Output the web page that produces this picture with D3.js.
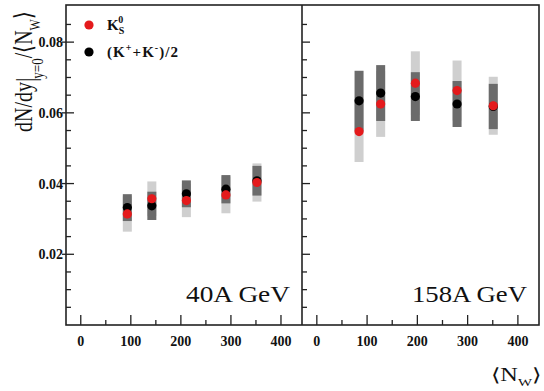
<!DOCTYPE html>
<html>
<head>
<meta charset="utf-8">
<script src="https://cdn.jsdelivr.net/npm/d3@7"></script>
<style>
  html, body { margin: 0; padding: 0; background: #fff; }
  svg { display: block; }
  text { font-family: "Liberation Serif", "Times New Roman", Times, serif; fill: #111; }
</style>
</head>
<body>
<svg id="chart" width="544" height="391"></svg>
<script>
// Kaon yield per wounded nucleon vs <N_W>, two beam energies
const npart40   = [93, 142, 211, 290, 352];
const k0s40     = [0.0314, 0.0357, 0.0352, 0.0368, 0.0403];
const k0sSys40  = [0.0050, 0.0049, 0.0047, 0.0052, 0.0054];
const kch40     = [0.0332, 0.0337, 0.0371, 0.0384, 0.0408];
const kchSys40  = [0.0038, 0.0040, 0.0038, 0.0040, 0.0042];

const npart158  = [84, 127, 196, 279, 351];
const k0s158    = [0.0547, 0.0625, 0.0684, 0.0663, 0.0620];
const k0sSys158 = [0.0086, 0.0093, 0.0090, 0.0085, 0.0082];
const kch158    = [0.0634, 0.0656, 0.0646, 0.0625, 0.0618];
const kchSys158 = [0.0085, 0.0079, 0.0069, 0.0065, 0.0064];

const k0sStat = 0.0012;

const xTicks = [0, 100, 200, 300, 400];
const yTicks = [0.02, 0.04, 0.06, 0.08];
const panelLabels = ["40A GeV", "158A GeV"];

const svg = d3.select("#chart");
const plotTop = 5, plotBottom = 325, plotLeft = 66, plotMid = 302, plotRight = 539;
const y = d3.scaleLinear().domain([0, 0.0905]).range([plotBottom, plotTop]);
const xDomain = [-29.5, 442];
const xL = d3.scaleLinear().domain(xDomain).range([plotLeft, plotMid]);
const xR = d3.scaleLinear().domain(xDomain).range([plotMid, plotRight]);

const RED = "#e41a1c", DARK = "#6b6b6b", LIGHT = "#cfcfcf";
const BOXW = 9;

function panel(x, n, k0, k0sys, kc, kcsys, label, textLen) {
  const g = svg.append("g");
  const idx = d3.range(n.length);
  // systematic bands
  g.selectAll(".lb").data(idx).join("rect")
    .attr("x", i => x(n[i]) - BOXW / 2).attr("width", BOXW)
    .attr("y", i => y(k0[i] + k0sys[i]))
    .attr("height", i => y(k0[i] - k0sys[i]) - y(k0[i] + k0sys[i]))
    .attr("fill", LIGHT);
  g.selectAll(".db").data(idx).join("rect")
    .attr("x", i => x(n[i]) - BOXW / 2).attr("width", BOXW)
    .attr("y", i => y(kc[i] + kcsys[i]))
    .attr("height", i => y(kc[i] - kcsys[i]) - y(kc[i] + kcsys[i]))
    .attr("fill", DARK);
  // charged kaon points
  g.selectAll(".bk").data(idx).join("circle")
    .attr("cx", i => x(n[i])).attr("cy", i => y(kc[i])).attr("r", 4.6)
    .attr("fill", "#000");
  // K0s stat errors and points
  g.selectAll(".se").data(idx).join("line")
    .attr("x1", i => x(n[i])).attr("x2", i => x(n[i]))
    .attr("y1", i => y(k0[i] + k0sStat)).attr("y2", i => y(k0[i] - k0sStat))
    .attr("stroke", RED).attr("stroke-width", 1.2);
  g.selectAll(".rd").data(idx).join("circle")
    .attr("cx", i => x(n[i])).attr("cy", i => y(k0[i])).attr("r", 4.6)
    .attr("fill", RED);

  // x axis: ticks pointing up
  const minor = d3.range(50, 450, 100);
  g.selectAll(".xt").data(xTicks).join("line")
    .attr("x1", d => x(d)).attr("x2", d => x(d))
    .attr("y1", plotBottom).attr("y2", plotBottom - 10)
    .attr("stroke", "#222").attr("stroke-width", 1.3);
  g.selectAll(".xm").data(minor).join("line")
    .attr("x1", d => x(d)).attr("x2", d => x(d))
    .attr("y1", plotBottom).attr("y2", plotBottom - 5)
    .attr("stroke", "#222").attr("stroke-width", 1.3);
  g.selectAll(".xl").data(xTicks).join("text")
    .attr("x", d => x(d)).attr("y", 346)
    .attr("text-anchor", "middle").attr("font-size", 14).attr("font-weight", "bold")
    .text(d => d);

  // y ticks on the panel's left edge
  const x0 = x.range()[0];
  const yMinor = d3.range(0.005, 0.09, 0.005).filter(v => Math.abs(v / 0.02 - Math.round(v / 0.02)) > 1e-6);
  g.selectAll(".ym").data(yMinor).join("line")
    .attr("x1", x0).attr("x2", x0 + 5)
    .attr("y1", d => y(d)).attr("y2", d => y(d))
    .attr("stroke", "#222").attr("stroke-width", 1.3);
  g.selectAll(".yt").data(yTicks).join("line")
    .attr("x1", x0 - (x0 === plotLeft ? 4 : 0)).attr("x2", x0 + 8)
    .attr("y1", d => y(d)).attr("y2", d => y(d))
    .attr("stroke", "#222").attr("stroke-width", 1.3);

  g.append("text")
    .attr("x", x.range()[1] - 12).attr("y", 302)
    .attr("text-anchor", "end").attr("font-size", 23)
    .attr("textLength", textLen).attr("lengthAdjust", "spacingAndGlyphs")
    .text(label);
}

panel(xL, npart40, k0s40, k0sSys40, kch40, kchSys40, panelLabels[0], 104);
panel(xR, npart158, k0s158, k0sSys158, kch158, kchSys158, panelLabels[1], 115);

// y tick labels
svg.selectAll(".yl").data(yTicks).join("text")
  .attr("x", 63).attr("y", d => y(d) + 5)
  .attr("text-anchor", "end").attr("font-size", 14).attr("font-weight", "bold")
  .text(d => d.toFixed(2));

// frame
svg.append("rect").attr("x", plotLeft).attr("y", plotTop)
  .attr("width", plotRight - plotLeft).attr("height", plotBottom - plotTop)
  .attr("fill", "none").attr("stroke", "#222").attr("stroke-width", 1.6);
svg.append("line").attr("x1", plotMid).attr("x2", plotMid).attr("y1", plotTop).attr("y2", plotBottom)
  .attr("stroke", "#222").attr("stroke-width", 1.6);

// legend
svg.append("circle").attr("cx", 89).attr("cy", 25).attr("r", 4.6).attr("fill", RED);
svg.append("circle").attr("cx", 89).attr("cy", 52).attr("r", 4.6).attr("fill", "#000");
const lg1 = svg.append("text").attr("x", 107).attr("y", 30)
  .attr("font-size", 15).attr("font-weight", "bold");
lg1.append("tspan").text("K");
lg1.append("tspan").attr("font-size", 10).attr("dy", 4).text("S");
lg1.append("tspan").attr("font-size", 10).attr("dx", -6).attr("dy", -11).text("0");
const lg2 = svg.append("text").attr("x", 107).attr("y", 57)
  .attr("font-size", 15).attr("font-weight", "bold")
  .attr("textLength", 71).attr("lengthAdjust", "spacing");
lg2.append("tspan").text("(K");
lg2.append("tspan").attr("font-size", 10).attr("dy", -6).text("+");
lg2.append("tspan").attr("dy", 6).text("+K");
lg2.append("tspan").attr("font-size", 10).attr("dy", -6).text("-");
lg2.append("tspan").attr("dy", 6).text(")/2");

// y axis title, read bottom to top
const yt = svg.append("text")
  .attr("transform", "translate(32,132) rotate(-90) scale(1,1.25)")
  .attr("font-size", 20);
yt.append("tspan").text("dN/dy");
yt.append("tspan").attr("font-size", 22).attr("dy", 2).text("|");
yt.append("tspan").attr("font-size", 13).attr("dx", -1).attr("dy", 6.5).text("y=0");
yt.append("tspan").attr("dy", -8.5).text("/\u27E8N");
yt.append("tspan").attr("font-size", 12).attr("dy", 6).text("W");
yt.append("tspan").attr("dy", -6).text("\u27E9");

// x axis title
const xt = svg.append("text")
  .attr("transform", "translate(541,381) scale(1.35,1)")
  .attr("text-anchor", "end").attr("font-size", 18);
xt.append("tspan").text("\u27E8N");
xt.append("tspan").attr("font-size", 11).attr("dy", 5).text("W");
xt.append("tspan").attr("dy", -5).text("\u27E9");
</script>
</body>
</html>
